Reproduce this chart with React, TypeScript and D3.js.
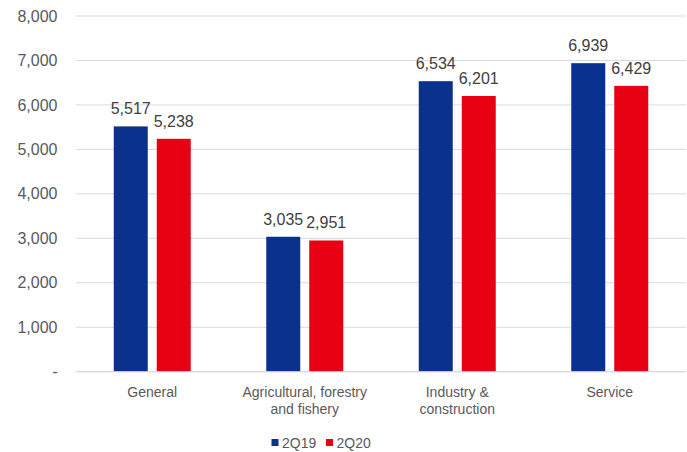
import React from "react";
import * as d3 from "d3";

const categories: string[][] = [
  ["General"],
  ["Agricultural, forestry", "and fishery"],
  ["Industry &", "construction"],
  ["Service"],
];
const seriesNames = ["2Q19", "2Q20"];
const values2Q19 = [5517, 3035, 6534, 6939];
const values2Q20 = [5238, 2951, 6201, 6429];
const yTicks = [0, 1000, 2000, 3000, 4000, 5000, 6000, 7000, 8000];
const colors = ["#0B318F", "#E60012"];

const W = 687;
const H = 452;
const left = 76;
const right = 686;
const top = 16;
const bottom = 371.7;

export default function App() {
  const x = d3.scaleBand<number>().domain(categories.map((_, i) => i)).range([left, right]).paddingInner(0).paddingOuter(0);
  const y = d3.scaleLinear().domain([0, 8000]).range([bottom, top]);
  const series = [values2Q19, values2Q20];
  const barW = 34;
  const gap = 9;
  const fmt = d3.format(",");
  const font = "Arial, 'Liberation Sans', sans-serif";
  return (
    <svg width={W} height={H} style={{ position: "absolute", left: 0, top: 0, background: "#fff" }} fontFamily={font}>
      {yTicks.map((t) => (
        <g key={t}>
          <line x1={left} x2={right} y1={y(t)} y2={y(t)} stroke="#d9d9d9" strokeWidth={1} />
          <text x={57.5} y={y(t)} dy="0.35em" textAnchor="end" fontSize={16} fill="#595959">
            {t === 0 ? "-" : fmt(t)}
          </text>
        </g>
      ))}
      {categories.map((c, i) => {
        const cx = (x(i) as number) + x.bandwidth() / 2;
        return (
          <g key={i}>
            {series.map((s, k) => {
              const bx = k === 0 ? cx - gap / 2 - barW : cx + gap / 2;
              return (
                <g key={k}>
                  <rect x={bx} y={y(s[i])} width={barW} height={y(0) - y(s[i])} fill={colors[k]} />
                  <text x={bx + barW / 2} y={y(s[i]) - 12} textAnchor="middle" fontSize={16} fill="#404040">
                    {fmt(s[i])}
                  </text>
                </g>
              );
            })}
            {c.map((line, j) => (
              <text key={j} x={cx} y={396.5 + j * 17} textAnchor="middle" fontSize={14} fill="#595959">
                {line}
              </text>
            ))}
          </g>
        );
      })}
      <line x1={left} x2={right} y1={bottom} y2={bottom} stroke="#d9d9d9" strokeWidth={1} />
      {seriesNames.map((n, k) => {
        const lx = 271.5 + k * 54.5;
        return (
          <g key={n}>
            <rect x={lx} y={439} width={7} height={7} fill={colors[k]} />
            <text x={lx + 10.5} y={448} fontSize={14} fill="#595959">
              {n}
            </text>
          </g>
        );
      })}
    </svg>
  );
}
